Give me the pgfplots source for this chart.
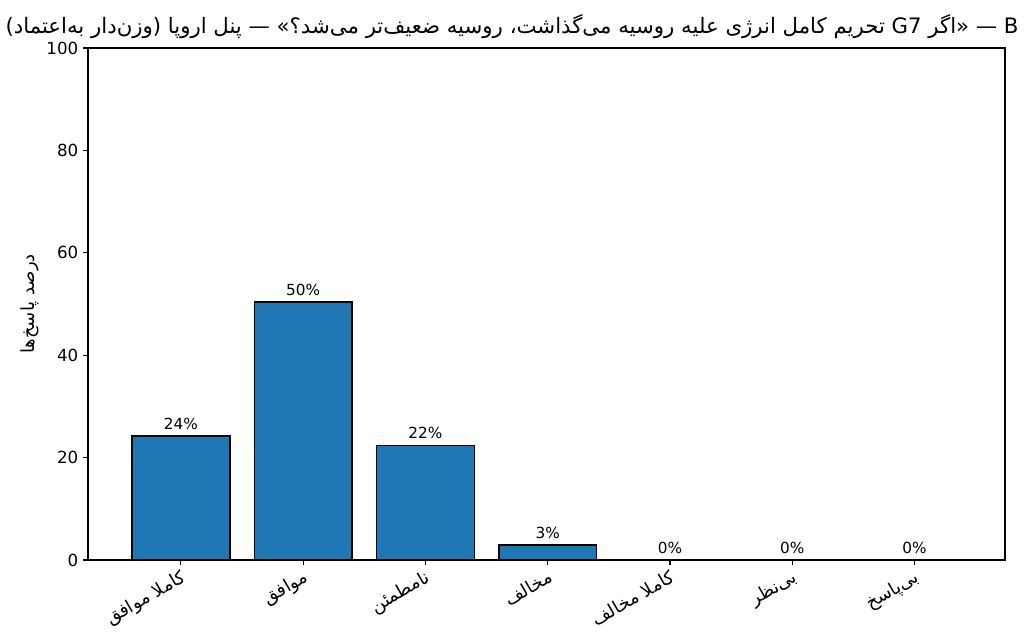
\documentclass[border=0pt]{standalone}
\usepackage{fontspec}
\setmainfont{DejaVu Sans}
\newfontfamily\arabicfont[Script=Arabic]{DejaVu Sans}
\TeXXeTstate=1
\usepackage{pgfplots}
\pgfplotsset{compat=1.18}
\definecolor{mplblue}{HTML}{1F77B4}
\begin{document}
\begin{tikzpicture}
\begin{axis}[
  scale only axis, width=660.2pt, height=368.6pt,
  xmin=-0.76, xmax=6.74, ymin=0, ymax=100,
  ybar, bar width=0.8,
  ytick={0,20,40,60,80,100},
  xtick={0,1,2,3,4,5,6},
  xticklabels={
    {\beginR کاملا موافق\endR},
    {\beginR موافق\endR},
    {\beginR نامطمئن\endR},
    {\beginR مخالف\endR},
    {\beginR کاملا مخالف\endR},
    {\beginR بی^^^^200cنظر\endR},
    {\beginR بی^^^^200cپاسخ\endR}},
  tick align=outside, tick pos=left,
  major tick length=3.5pt,
  every tick/.style={black, line width=0.8pt},
  axis line style={line width=0.8pt},
  /pgf/number format/assume math mode=true,
  yticklabel style={font=\fontsize{12}{14}\selectfont},
  xticklabel style={font=\arabicfont\fontsize{13}{15}\selectfont, rotate=30, anchor=north east, inner sep=2pt},
  ylabel={\arabicfont\beginR درصد پاسخ^^^^200cها\endR},
  ylabel style={font=\fontsize{13}{15}\selectfont, at={(axis description cs:-0.0633,0.5)}, anchor=center},
  title={\beginR B — «اگر \beginL G7\endL{} تحریم کامل انرژی علیه روسیه می^^^^200cگذاشت، روسیه ضعیف^^^^200cتر می^^^^200cشد؟» — پنل اروپا (وزن^^^^200cدار به^^^^200cاعتماد)\endR},
  title style={font=\arabicfont\fontsize{15.3}{18}\selectfont, at={(0.4624,1)}, anchor=south, yshift=-3pt},
  clip=false,
  nodes near coords={\pgfmathprintnumber[fixed,precision=0]{\pgfplotspointmeta}\%},
  every node near coord/.append style={black, font=\fontsize{11}{13}\selectfont, yshift=1pt},
]
\addplot[fill=mplblue, draw=black, line width=1pt] coordinates {(0,24.2) (1,50.4) (2,22.3) (3,2.9) (4,0) (5,0) (6,0)};
\path (rel axis cs:-0.09597,-0.15625) rectangle (rel axis cs:1.02072,1.09375);
\end{axis}
\end{tikzpicture}
\end{document}
